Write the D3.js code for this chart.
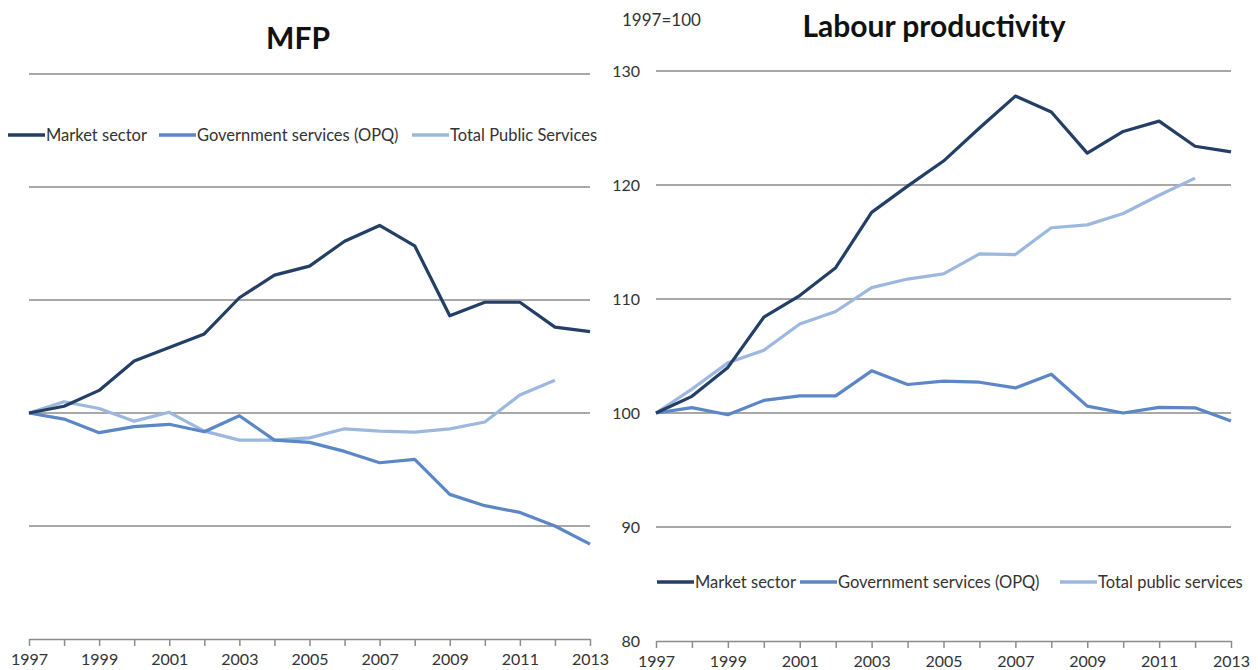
<!DOCTYPE html>
<html>
<head>
<meta charset="utf-8">
<script src="https://cdn.jsdelivr.net/npm/d3@7"></script>
<style>
  body { margin: 0; background: #fff; }
  svg { font-family: Lato, "Open Sans", sans-serif; }
  .grid line { stroke: #a8a8a8; stroke-width: 2; }
  .xaxis path, .xaxis line { stroke: #8c8c8c; stroke-width: 1.5; }
  .xaxis text, .ylab { fill: #333; font-size: 16px; }
</style>
</head>
<body>
<svg width="1258" height="670"></svg>
<script>
const years = d3.range(1997, 2014);
const yearLabels = [1997, 1999, 2001, 2003, 2005, 2007, 2009, 2011, 2013];

// MFP (left) - no y labels shown in the source, 5 points per gridline
const mfpMarket = [100, 100.3, 101.0, 102.3, 102.9, 103.5, 105.1, 106.1, 106.5, 107.6, 108.3, 107.4, 104.3, 104.9, 104.9, 103.8, 103.6];
const mfpGov = [100, 99.73, 99.13, 99.4, 99.5, 99.17, 99.88, 98.8, 98.7, 98.3, 97.8, 97.95, 96.4, 95.9, 95.6, 95.0, 94.2];
const mfpTotal = [100, 100.5, 100.2, 99.64, 100.03, 99.2, 98.8, 98.8, 98.9, 99.3, 99.2, 99.15, 99.3, 99.6, 100.8, 101.45];
const mfpTicks = [90, 95, 100, 105, 110, 115];

// Labour productivity (right)
const lpMarket = [100, 101.46, 104.0, 108.4, 110.3, 112.75, 117.6, 119.9, 122.1, 125.0, 127.8, 126.4, 122.8, 124.7, 125.6, 123.4, 122.9];
const lpGov = [100, 100.47, 99.85, 101.1, 101.5, 101.5, 103.7, 102.5, 102.8, 102.7, 102.2, 103.4, 100.6, 100.0, 100.5, 100.45, 99.3];
const lpTotal = [100, 102.1, 104.4, 105.5, 107.8, 108.9, 111.0, 111.75, 112.2, 113.95, 113.9, 116.25, 116.5, 117.5, 119.1, 120.6];
const lpTicks = [80, 90, 100, 110, 120, 130];

const colors = { market: "#243f66", gov: "#5b87c6", total: "#9db8de" };

const svg = d3.select("svg");

function panel(opt) {
  const x = d3.scaleLinear().domain([1997, 2013]).range([opt.x0, opt.x1]);
  const y = d3.scaleLinear().domain(opt.domain).range([opt.yBottom, opt.yTop]);
  const g = svg.append("g");

  // gridlines (skip the bottom one, the axis sits there)
  g.append("g").attr("class", "grid")
    .selectAll("line").data(opt.ticks.slice(1)).join("line")
    .attr("x1", opt.x0).attr("x2", opt.x1)
    .attr("y1", d => y(d)).attr("y2", d => y(d));

  // x axis with a tick every year, label every second
  const ax = g.append("g").attr("class", "xaxis")
    .attr("transform", `translate(0,${opt.yBottom})`)
    .call(d3.axisBottom(x).tickValues(years).tickSizeInner(7).tickSizeOuter(0)
      .tickFormat(d => yearLabels.includes(d) ? d : ""));
  ax.selectAll("text").attr("dy", "1.0em").style("font-family", "Lato, sans-serif");

  if (opt.showY) {
    g.append("g").selectAll("text").data(opt.ticks).join("text")
      .attr("class", "ylab")
      .attr("x", opt.x0 - 16).attr("y", d => y(d)).attr("dy", "0.35em")
      .attr("text-anchor", "end")
      .text(d => d);
  }

  const line = d3.line().x((d, i) => x(years[i])).y(d => y(d));
  [["total", opt.total], ["gov", opt.gov], ["market", opt.market]].forEach(([k, vals]) => {
    g.append("path").datum(vals)
      .attr("d", line)
      .attr("fill", "none")
      .attr("stroke", colors[k])
      .attr("stroke-width", 3.2)
      .attr("stroke-linejoin", "round");
  });

  // title
  g.append("text").attr("x", opt.titleX).attr("y", opt.titleY)
    .attr("text-anchor", "middle")
    .style("font-size", "30px").style("font-weight", "bold").attr("fill", "#111")
    .text(opt.title);

  // legend
  const lg = g.append("g").attr("transform", `translate(0,${opt.legendY})`);
  opt.legend.forEach(([k, label, lx]) => {
    lg.append("line").attr("x1", lx).attr("x2", lx + 37).attr("y1", 0).attr("y2", 0)
      .attr("stroke", colors[k]).attr("stroke-width", 3.5);
    lg.append("text").attr("x", lx + 38).attr("y", 0).attr("dy", "0.35em")
      .style("font-size", "16.5px").attr("fill", "#333").text(label);
  });
}

panel({
  x0: 29, x1: 590, yTop: 74, yBottom: 639, domain: [90, 115], ticks: mfpTicks,
  market: mfpMarket, gov: mfpGov, total: mfpTotal, showY: false,
  title: "MFP", titleX: 298, titleY: 49,
  legendY: 135,
  legend: [["market", "Market sector", 8], ["gov", "Government services (OPQ)", 159], ["total", "Total Public Services", 412]]
});

panel({
  x0: 656, x1: 1231, yTop: 71, yBottom: 641, domain: [80, 130], ticks: lpTicks,
  market: lpMarket, gov: lpGov, total: lpTotal, showY: true,
  title: "Labour productivity", titleX: 934, titleY: 37,
  legendY: 582,
  legend: [["market", "Market sector", 657], ["gov", "Government services (OPQ)", 800], ["total", "Total public services", 1060]]
});

svg.append("text").attr("x", 622).attr("y", 26)
  .style("font-size", "17px").attr("fill", "#333").text("1997=100");
</script>
</body>
</html>
